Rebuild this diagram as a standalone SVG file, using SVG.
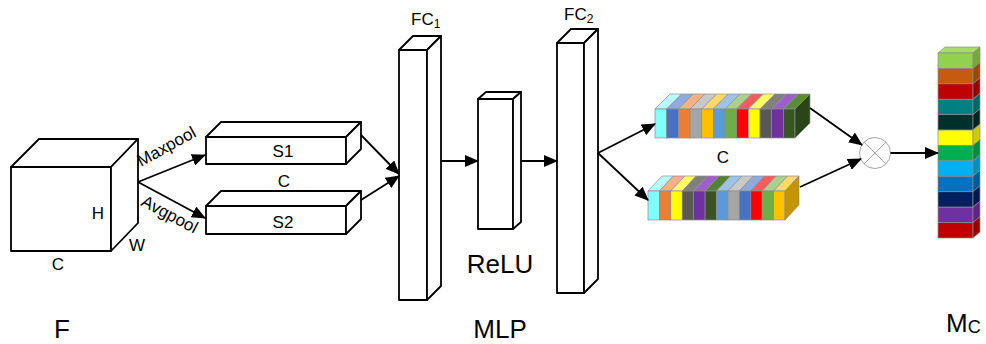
<svg xmlns="http://www.w3.org/2000/svg" width="986" height="344" viewBox="0 0 986 344">
<style>
.box{fill:#fff;stroke:#000;stroke-width:1.8;stroke-linejoin:round}
.lbl{font-family:"Liberation Sans",Arial,sans-serif;font-size:17px;fill:#000}
.big{font-family:"Liberation Sans",Arial,sans-serif;font-size:26px;fill:#000}
.con{stroke:#000;stroke-width:1.8;fill:none}
.cell{stroke:#8c8c8c;stroke-width:0.7}
</style>
<defs>
<marker id="ah" markerUnits="userSpaceOnUse" markerWidth="14" markerHeight="12" refX="13" refY="6" orient="auto">
<path d="M0,0 L14,6 L0,12 z" fill="#000"/>
</marker>
</defs>
<rect width="986" height="344" fill="#fff"/>

<g id="cube-F">
<rect class="box" x="11" y="167" width="100" height="84"/>
<polygon class="box" points="11,167 39,139 138,139 111,167"/>
<polygon class="box" points="111,167 138,139 138,223 111,251"/>
<text class="lbl" x="98" y="219" text-anchor="middle">H</text>
<text class="lbl" x="58" y="270" text-anchor="middle">C</text>
<text class="lbl" x="137" y="251" text-anchor="middle">W</text>
<text class="big" x="62" y="338" text-anchor="middle">F</text>
</g>

<g id="S1">
<rect class="box" x="206" y="137" width="140" height="27"/>
<polygon class="box" points="206,137 221,122 361,122 346,137"/>
<polygon class="box" points="346,137 361,122 361,149 346,164"/>
<text class="lbl" x="283" y="157" text-anchor="middle">S1</text>
</g>

<text class="lbl" x="284" y="187" text-anchor="middle">C</text>

<g id="S2">
<rect class="box" x="206" y="206" width="140" height="28"/>
<polygon class="box" points="206,206 221,191 361,191 346,206"/>
<polygon class="box" points="346,206 361,191 361,219 346,234"/>
<text class="lbl" x="283" y="228" text-anchor="middle">S2</text>
</g>

<g id="FC1">
<rect class="box" x="399" y="50" width="28" height="250"/>
<polygon class="box" points="399,50 413,36 441,36 427,50"/>
<polygon class="box" points="427,50 441,36 441,286 427,300"/>
<text class="lbl" x="411" y="25" font-size="16">FC<tspan font-size="12" dy="3">1</tspan></text>
</g>

<g id="ReLU">
<rect class="box" x="478" y="99" width="35" height="130"/>
<polygon class="box" points="478,99 486,92 521,92 513,99"/>
<polygon class="box" points="513,99 521,92 521,222 513,229"/>
<text class="big" x="500" y="273" text-anchor="middle" font-size="25">ReLU</text>
</g>

<text class="big" x="500" y="338" text-anchor="middle">MLP</text>

<g id="FC2">
<rect class="box" x="557" y="43" width="27" height="250"/>
<polygon class="box" points="557,43 571,29 598,29 584,43"/>
<polygon class="box" points="584,43 598,29 598,279 584,293"/>
<text class="lbl" x="564" y="20" font-size="16">FC<tspan font-size="12" dy="3">2</tspan></text>
</g>

<g id="bar-top">
<polygon class="cell" fill="#b7fbff" points="655,109 670,94 681.67,94 666.67,109"/>
<polygon class="cell" fill="#8faadc" points="666.67,109 681.67,94 693.33,94 678.33,109"/>
<polygon class="cell" fill="#f4b183" points="678.33,109 693.33,94 705,94 690,109"/>
<polygon class="cell" fill="#c9c9c9" points="690,109 705,94 716.67,94 701.67,109"/>
<polygon class="cell" fill="#ffd966" points="701.67,109 716.67,94 728.33,94 713.33,109"/>
<polygon class="cell" fill="#9dc3e6" points="713.33,109 728.33,94 740,94 725,109"/>
<polygon class="cell" fill="#a9d18e" points="725,109 740,94 751.67,94 736.67,109"/>
<polygon class="cell" fill="#ff5b5b" points="736.67,109 751.67,94 763.33,94 748.33,109"/>
<polygon class="cell" fill="#ffff66" points="748.33,109 763.33,94 775,94 760,109"/>
<polygon class="cell" fill="#808080" points="760,109 775,94 786.67,94 771.67,109"/>
<polygon class="cell" fill="#9e5fcb" points="771.67,109 786.67,94 798.33,94 783.33,109"/>
<polygon class="cell" fill="#5b8c3a" points="783.33,109 798.33,94 810,94 795,109"/>
<rect class="cell" fill="#80ffff" x="655" y="109" width="11.67" height="29"/>
<rect class="cell" fill="#4472c4" x="666.67" y="109" width="11.67" height="29"/>
<rect class="cell" fill="#ed7d31" x="678.33" y="109" width="11.67" height="29"/>
<rect class="cell" fill="#a5a5a5" x="690" y="109" width="11.67" height="29"/>
<rect class="cell" fill="#ffc000" x="701.67" y="109" width="11.67" height="29"/>
<rect class="cell" fill="#5b9bd5" x="713.33" y="109" width="11.67" height="29"/>
<rect class="cell" fill="#70ad47" x="725" y="109" width="11.67" height="29"/>
<rect class="cell" fill="#ff0000" x="736.67" y="109" width="11.67" height="29"/>
<rect class="cell" fill="#ffff00" x="748.33" y="109" width="11.67" height="29"/>
<rect class="cell" fill="#595959" x="760" y="109" width="11.67" height="29"/>
<rect class="cell" fill="#7030a0" x="771.67" y="109" width="11.67" height="29"/>
<rect class="cell" fill="#375623" x="783.33" y="109" width="11.67" height="29"/>
<polygon class="cell" fill="#2a4519" points="795,109 810,94 810,123 795,138"/>
</g>

<text class="lbl" x="723" y="163" text-anchor="middle">C</text>

<g id="bar-bottom">
<polygon class="cell" fill="#b7fbff" points="648,191 662,176 673.42,176 659.42,191"/>
<polygon class="cell" fill="#f4b183" points="659.42,191 673.42,176 684.83,176 670.83,191"/>
<polygon class="cell" fill="#ffff66" points="670.83,191 684.83,176 696.25,176 682.25,191"/>
<polygon class="cell" fill="#808080" points="682.25,191 696.25,176 707.67,176 693.67,191"/>
<polygon class="cell" fill="#9e5fcb" points="693.67,191 707.67,176 719.08,176 705.08,191"/>
<polygon class="cell" fill="#548235" points="705.08,191 719.08,176 730.5,176 716.5,191"/>
<polygon class="cell" fill="#9dc3e6" points="716.5,191 730.5,176 741.92,176 727.92,191"/>
<polygon class="cell" fill="#c9c9c9" points="727.92,191 741.92,176 753.33,176 739.33,191"/>
<polygon class="cell" fill="#8faadc" points="739.33,191 753.33,176 764.75,176 750.75,191"/>
<polygon class="cell" fill="#ff5b5b" points="750.75,191 764.75,176 776.17,176 762.17,191"/>
<polygon class="cell" fill="#a9d18e" points="762.17,191 776.17,176 787.58,176 773.58,191"/>
<polygon class="cell" fill="#ffd966" points="773.58,191 787.58,176 799,176 785,191"/>
<rect class="cell" fill="#80ffff" x="648" y="191" width="11.42" height="29"/>
<rect class="cell" fill="#ed7d31" x="659.42" y="191" width="11.42" height="29"/>
<rect class="cell" fill="#ffff00" x="670.83" y="191" width="11.42" height="29"/>
<rect class="cell" fill="#595959" x="682.25" y="191" width="11.42" height="29"/>
<rect class="cell" fill="#7030a0" x="693.67" y="191" width="11.42" height="29"/>
<rect class="cell" fill="#375623" x="705.08" y="191" width="11.42" height="29"/>
<rect class="cell" fill="#5b9bd5" x="716.5" y="191" width="11.42" height="29"/>
<rect class="cell" fill="#a5a5a5" x="727.92" y="191" width="11.42" height="29"/>
<rect class="cell" fill="#4472c4" x="739.33" y="191" width="11.42" height="29"/>
<rect class="cell" fill="#ff0000" x="750.75" y="191" width="11.42" height="29"/>
<rect class="cell" fill="#70ad47" x="762.17" y="191" width="11.42" height="29"/>
<rect class="cell" fill="#ffc000" x="773.58" y="191" width="11.42" height="29"/>
<polygon class="cell" fill="#c49500" points="785,191 799,176 799,205 785,220"/>
</g>

<g id="multiply">
<circle cx="875" cy="153" r="15.5" fill="#fff" stroke="#a6a6a6" stroke-width="1"/>
<line x1="864" y1="142" x2="886" y2="164" stroke="#a6a6a6" stroke-width="1"/>
<line x1="886" y1="142" x2="864" y2="164" stroke="#a6a6a6" stroke-width="1"/>
</g>

<g id="Mc">
<polygon class="cell" fill="#a8dc6e" points="938,53 945,47 980,47 973,53"/>
<rect class="cell" fill="#92d050" x="938" y="53" width="35" height="15.42"/>
<rect class="cell" fill="#c55a11" x="938" y="68.42" width="35" height="15.42"/>
<rect class="cell" fill="#c00000" x="938" y="83.83" width="35" height="15.42"/>
<rect class="cell" fill="#008080" x="938" y="99.25" width="35" height="15.42"/>
<rect class="cell" fill="#00302c" x="938" y="114.67" width="35" height="15.42"/>
<rect class="cell" fill="#ffff00" x="938" y="130.08" width="35" height="15.42"/>
<rect class="cell" fill="#00b050" x="938" y="145.5" width="35" height="15.42"/>
<rect class="cell" fill="#00b0f0" x="938" y="160.92" width="35" height="15.42"/>
<rect class="cell" fill="#0070c0" x="938" y="176.33" width="35" height="15.42"/>
<rect class="cell" fill="#002060" x="938" y="191.75" width="35" height="15.42"/>
<rect class="cell" fill="#7030a0" x="938" y="207.17" width="35" height="15.42"/>
<rect class="cell" fill="#c00000" x="938" y="222.58" width="35" height="15.42"/>
<polygon class="cell" fill="#76a83e" points="973,53 980,47 980,62.42 973,68.42"/>
<polygon class="cell" fill="#9c470d" points="973,68.42 980,62.42 980,77.83 973,83.83"/>
<polygon class="cell" fill="#990000" points="973,83.83 980,77.83 980,93.25 973,99.25"/>
<polygon class="cell" fill="#006666" points="973,99.25 980,93.25 980,108.67 973,114.67"/>
<polygon class="cell" fill="#002420" points="973,114.67 980,108.67 980,124.08 973,130.08"/>
<polygon class="cell" fill="#cccc00" points="973,130.08 980,124.08 980,139.5 973,145.5"/>
<polygon class="cell" fill="#008c40" points="973,145.5 980,139.5 980,154.92 973,160.92"/>
<polygon class="cell" fill="#008dc0" points="973,160.92 980,154.92 980,170.33 973,176.33"/>
<polygon class="cell" fill="#005a9a" points="973,176.33 980,170.33 980,185.75 973,191.75"/>
<polygon class="cell" fill="#001a4d" points="973,191.75 980,185.75 980,201.17 973,207.17"/>
<polygon class="cell" fill="#5a2680" points="973,207.17 980,201.17 980,216.58 973,222.58"/>
<polygon class="cell" fill="#990000" points="973,222.58 980,216.58 980,232 973,238"/>
<text class="big" x="946" y="332">M<tspan font-size="18" dy="1">C</tspan></text>
</g>

<g id="connectors">
<line class="con" x1="138" y1="182" x2="205" y2="155" marker-end="url(#ah)"/>
<line class="con" x1="138" y1="182" x2="205" y2="218" marker-end="url(#ah)"/>
<line class="con" x1="361" y1="135" x2="399" y2="174" marker-end="url(#ah)"/>
<line class="con" x1="361" y1="200" x2="399" y2="176" marker-end="url(#ah)"/>
<line class="con" x1="441" y1="161" x2="478" y2="161" marker-end="url(#ah)"/>
<line class="con" x1="521" y1="161" x2="557" y2="161" marker-end="url(#ah)"/>
<line class="con" x1="598" y1="153" x2="655" y2="124" marker-end="url(#ah)"/>
<line class="con" x1="598" y1="153" x2="648" y2="200" marker-end="url(#ah)"/>
<line class="con" x1="810" y1="108" x2="862" y2="145" marker-end="url(#ah)"/>
<line class="con" x1="800" y1="187" x2="861" y2="159" marker-end="url(#ah)"/>
<line class="con" x1="890.5" y1="153" x2="938" y2="153" marker-end="url(#ah)"/>
<text class="lbl" font-size="18" transform="translate(141,167) rotate(-29)">Maxpool</text>
<text class="lbl" font-size="18" transform="translate(140,205) rotate(28)">Avgpool</text>
</g>
</svg>
